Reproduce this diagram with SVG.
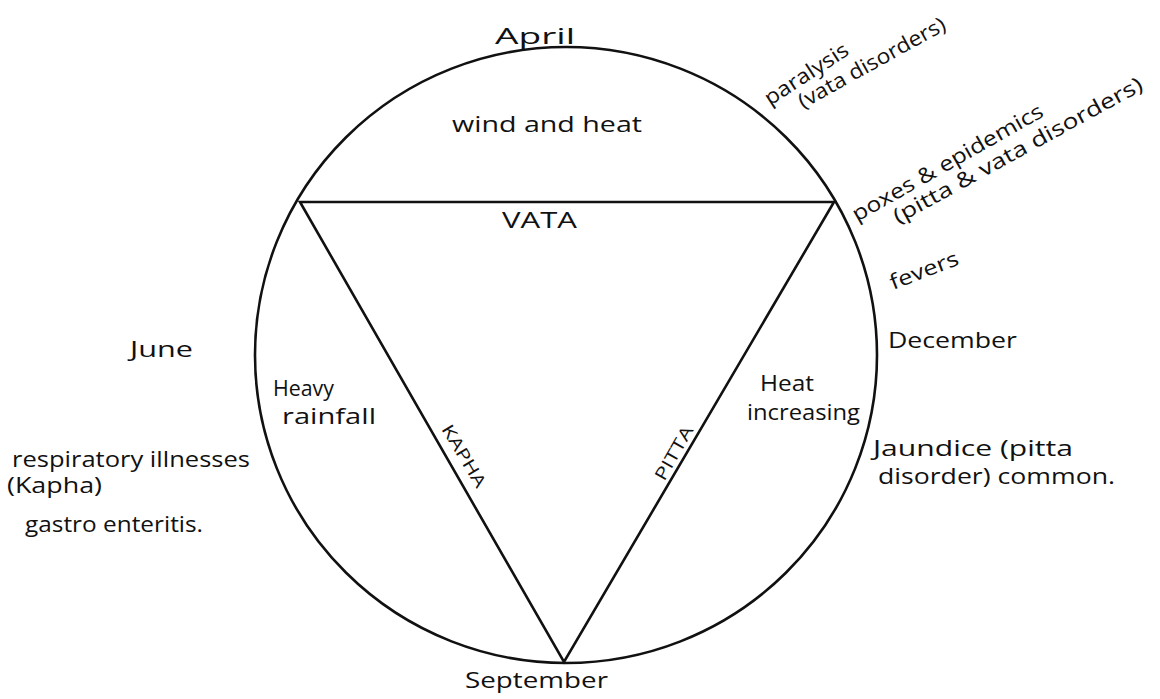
<svg xmlns="http://www.w3.org/2000/svg" width="1160" height="699" viewBox="0 0 1160 699">
  <style>
    .ln { fill: none; stroke: #111; stroke-width: 2.6; stroke-linejoin: miter; }
    .t { font-family: "Open Sans", "Liberation Sans", sans-serif; fill: #111; font-size: 21px; }
    .s { font-size: 17px; }
  </style>
  <rect x="0" y="0" width="1160" height="699" fill="#fff"/>
  <g id="shapes">
    <ellipse class="ln" cx="566" cy="355" rx="311" ry="308"/>
    <polygon class="ln" points="300,202 834,202 564,662"/>
  </g>
  <g id="months">
    <text class="t" x="495" y="44" font-size="24" textLength="80" lengthAdjust="spacingAndGlyphs">April</text>
    <text class="t" x="130" y="357" textLength="63" lengthAdjust="spacingAndGlyphs">June</text>
    <text class="t" x="888" y="348" textLength="129" lengthAdjust="spacingAndGlyphs">December</text>
    <text class="t" x="465" y="688" textLength="143" lengthAdjust="spacingAndGlyphs">September</text>
  </g>
  <g id="seasons">
    <text class="t" x="452" y="132" font-size="22" textLength="190" lengthAdjust="spacingAndGlyphs">wind and heat</text>
    <text class="t" x="273" y="396" font-size="20" textLength="61" lengthAdjust="spacingAndGlyphs">Heavy</text>
    <text class="t" x="282" y="424" font-size="20" textLength="94" lengthAdjust="spacingAndGlyphs">rainfall</text>
    <text class="t" x="760" y="391" font-size="20" textLength="54" lengthAdjust="spacingAndGlyphs">Heat</text>
    <text class="t" x="747" y="420" font-size="20" textLength="113" lengthAdjust="spacingAndGlyphs">increasing</text>
  </g>
  <g id="doshas">
    <text class="t" x="502" y="228" font-size="20" textLength="75" lengthAdjust="spacingAndGlyphs">VATA</text>
    <text class="t s" transform="translate(459,459) rotate(59.2)" text-anchor="middle" textLength="70" lengthAdjust="spacingAndGlyphs">KAPHA</text>
    <text class="t s" transform="translate(679,456) rotate(-60.5)" text-anchor="middle" textLength="60" lengthAdjust="spacingAndGlyphs">PITTA</text>
  </g>
  <g id="disorders-right">
    <text class="t" font-size="20" transform="translate(770,106) rotate(-33)" textLength="96" lengthAdjust="spacingAndGlyphs">paralysis</text>
    <text class="t" font-size="20" transform="translate(803,109) rotate(-29)" textLength="165" lengthAdjust="spacingAndGlyphs">(vata disorders)</text>
    <text class="t" transform="translate(857,222) rotate(-29.5)" textLength="216" lengthAdjust="spacingAndGlyphs">poxes &amp; epidemics</text>
    <text class="t" transform="translate(898,224) rotate(-28.7)" textLength="281" lengthAdjust="spacingAndGlyphs">(pitta &amp; vata disorders)</text>
    <text class="t" transform="translate(893,290) rotate(-21)" textLength="72" lengthAdjust="spacingAndGlyphs">fevers</text>
    <text class="t" x="873" y="456" textLength="200" lengthAdjust="spacingAndGlyphs">Jaundice (pitta</text>
    <text class="t" x="878" y="484" textLength="237" lengthAdjust="spacingAndGlyphs">disorder) common.</text>
  </g>
  <g id="disorders-left">
    <text class="t" x="12" y="467" font-size="22" textLength="238" lengthAdjust="spacingAndGlyphs">respiratory illnesses</text>
    <text class="t" x="7" y="493" font-size="22" textLength="95" lengthAdjust="spacingAndGlyphs">(Kapha)</text>
    <text class="t" x="25" y="532" textLength="178" lengthAdjust="spacingAndGlyphs">gastro enteritis.</text>
  </g>
</svg>
